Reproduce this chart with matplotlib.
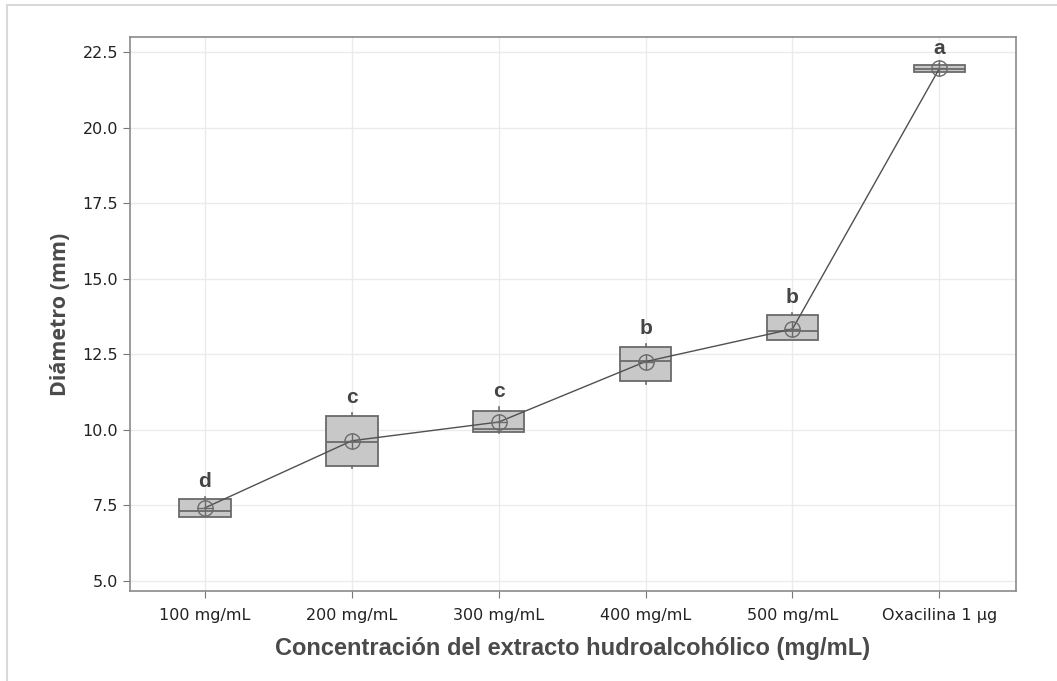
import matplotlib
matplotlib.use('Agg')
import matplotlib.pyplot as plt
from matplotlib.lines import Line2D

groups = ['100 mg/mL', '200 mg/mL', '300 mg/mL', '400 mg/mL', '500 mg/mL',
          'Oxacilina 1 µg']
q1 = [7.12, 8.80, 9.92, 11.62, 12.97, 21.85]
median = [7.32, 9.60, 10.03, 12.29, 13.27, 21.94]
q3 = [7.71, 10.47, 10.62, 12.75, 13.80, 22.07]
whis_lo = [7.12, 8.74, 9.90, 11.52, 12.97, 21.85]
whis_hi = [7.78, 10.56, 10.77, 12.84, 13.87, 22.12]
means = [7.42, 9.64, 10.26, 12.26, 13.34, 21.96]
letters = ['d', 'c', 'c', 'b', 'b', 'a']
yticks = [5.0, 7.5, 10.0, 12.5, 15.0, 17.5, 20.0, 22.5]

plt.rcParams['font.family'] = ['DejaVu Sans']

fig = plt.figure(figsize=(10.57, 6.81), dpi=100)
ax = fig.add_axes([0.123, 0.1322, 0.838, 0.8135])

stats = []
for i in range(len(groups)):
    stats.append({'q1': q1[i], 'med': median[i], 'q3': q3[i],
                  'whislo': whis_lo[i], 'whishi': whis_hi[i],
                  'mean': means[i], 'fliers': [], 'label': groups[i]})

pos = list(range(len(groups)))
ax.bxp(stats, positions=pos, widths=0.35, patch_artist=True,
       showmeans=False, showcaps=False,
       boxprops=dict(facecolor='#c8c8c8', edgecolor='#6a6a6a', linewidth=1.3),
       medianprops=dict(color='#6a6a6a', linewidth=1.3),
       whiskerprops=dict(color='#6a6a6a', linewidth=1.2))

# mean line and circled-plus markers
ax.plot(pos, means, color='#505050', lw=1.0, zorder=4)
ax.plot(pos, means, 'o', ms=11, mfc='none', mec='#6a6a6a', mew=1.0, zorder=5)
ax.plot(pos, means, '+', ms=11, mec='#6a6a6a', mew=1.0, zorder=5)

for i, t in enumerate(letters):
    ax.text(pos[i], whis_hi[i] + 0.2, t, ha='center', va='bottom',
            fontsize=15, fontweight='bold', color='#444444',
            family=['Liberation Sans'])

ax.set_xlim(-0.51, 5.52)
ax.set_ylim(4.67, 23.0)
ax.set_yticks(yticks)
ax.set_yticklabels(['%.1f' % v for v in yticks])
ax.set_xticks(pos)
ax.set_xticklabels(groups)
ax.tick_params(labelsize=11.5, colors='#222222', length=5, color='#777777')
ax.tick_params(axis='x', pad=7)
ax.grid(True, color='#ebebeb', lw=1.0)
ax.set_axisbelow(True)
for s in ax.spines.values():
    s.set_color('#8a8a8a')
    s.set_linewidth(1.2)

ax.set_ylabel('Diámetro (mm)', fontsize=15.5, fontweight='bold',
              color='#4a4a4a', labelpad=8, family=['Open Sans'])
ax.set_xlabel('Concentración del extracto hudroalcohólico (mg/mL)',
              fontsize=17, fontweight='bold', color='#4a4a4a', labelpad=10,
              family=['Liberation Sans'])

# thin outer frame on left and top
fig.add_artist(Line2D([0.0066, 0.0066], [0, 0.9927], color='#d9d9d9', lw=1.5))
fig.add_artist(Line2D([0.0066, 1.0], [0.9927, 0.9927], color='#d9d9d9', lw=1.5))

fig.savefig('out.png', dpi=100)
